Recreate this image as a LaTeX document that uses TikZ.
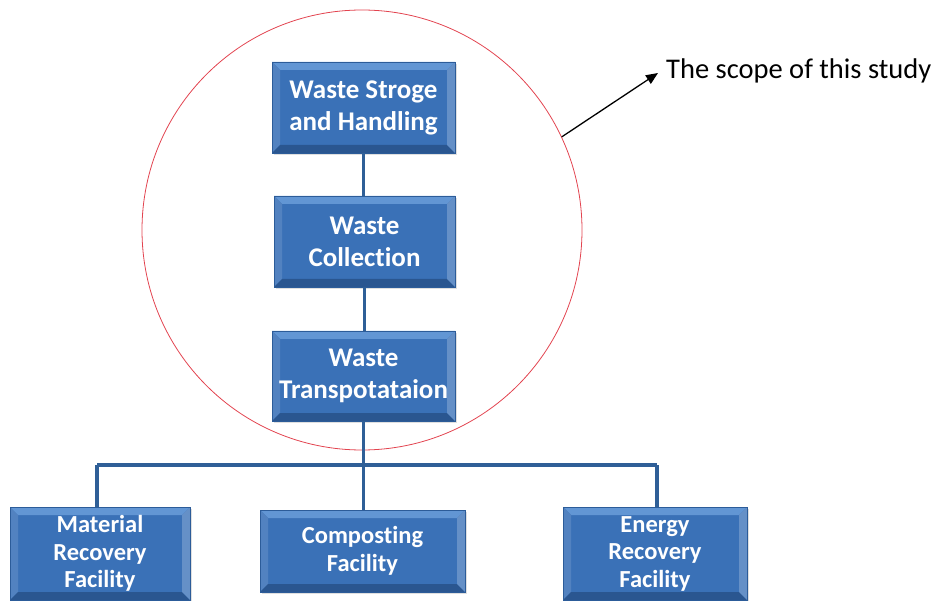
\documentclass[tikz,border=0pt]{standalone}
\usepackage{fontspec}
\setmainfont{Carlito}[Ligatures={NoCommon,NoRequired,NoContextual},Contextuals=NoAlternate]
\usetikzlibrary{arrows.meta,shadows}
\definecolor{boxblue}{HTML}{3A71B7}
\definecolor{boxedge}{HTML}{2C5C99}
\definecolor{bevlight}{HTML}{6296D4}
\definecolor{bevdark}{HTML}{2A5690}
\definecolor{linkblue}{HTML}{2F5F97}
\definecolor{scopered}{HTML}{E2434F}
\tikzset{
  box/.style={rectangle, fill=boxblue, draw=boxedge, line width=0.6pt,
    text=white, align=center, inner sep=0pt,
    drop shadow={opacity=0.25, shadow xshift=2pt, shadow yshift=-2pt},
    path picture={
      \fill[bevlight] (path picture bounding box.north west) -- (path picture bounding box.north east)
        -- ([xshift=-8pt,yshift=-8pt]path picture bounding box.north east)
        -- ([xshift=8pt,yshift=-8pt]path picture bounding box.north west) -- cycle;
      \fill[boxblue!88!white] (path picture bounding box.north west) -- ([xshift=8pt,yshift=-8pt]path picture bounding box.north west)
        -- ([xshift=8pt,yshift=8pt]path picture bounding box.south west) -- (path picture bounding box.south west) -- cycle;
      \fill[bevdark] (path picture bounding box.south west) -- (path picture bounding box.south east)
        -- ([xshift=-8pt,yshift=8pt]path picture bounding box.south east)
        -- ([xshift=8pt,yshift=8pt]path picture bounding box.south west) -- cycle;
      \fill[boxblue!78!white] (path picture bounding box.north east) -- ([xshift=-8pt,yshift=-8pt]path picture bounding box.north east)
        -- ([xshift=-8pt,yshift=8pt]path picture bounding box.south east) -- (path picture bounding box.south east) -- cycle;
    }},
  topbox/.style={box, font=\bfseries\fontsize{27}{32}\selectfont},
  lowbox/.style={box, font=\bfseries\fontsize{24.5}{27.5}\selectfont},
  link/.style={draw=linkblue, line width=3.8pt},
  scopering/.style={circle, draw=scopered, line width=0.8pt, minimum size=440pt, inner sep=0pt},
}
\begin{document}
\begin{tikzpicture}[x=1pt,y=-1pt]
\useasboundingbox (0,0) rectangle (937,601);
\node[scopering] (scope) at (362,230) {};
\node[topbox, minimum width=183pt, minimum height=91pt] (b1) at (363.5,107.5) {Waste Stroge\\and Handling};
\node[topbox, minimum width=181pt, minimum height=91pt] (b2) at (364.5,241.5) {Waste\\Collection};
\node[topbox, minimum width=183pt, minimum height=90pt] (b3) at (363.5,376) {Waste\\Transpotataion};
\node[lowbox, minimum width=180pt, minimum height=93pt] (m1) at (100,553.5) {Material\\Recovery\\Facility};
\node[lowbox, minimum width=205pt, minimum height=82pt] (m2) at (362.5,551) {Composting\\Facility};
\node[lowbox, minimum width=184pt, minimum height=93pt] (m3) at (655,553.5) {Energy\\Recovery\\Facility};
\node[anchor=west, font=\fontsize{28.5}{32}\selectfont, inner sep=0pt] (lbl) at (666,71) {The scope of this study};
\coordinate (bus) at (362,465);
\coordinate (busL) at (97,465);
\coordinate (busR) at (657,465);
\draw[link] (b1.south) -- (b1.south |- b2.north);
\draw[link] (b2.south) -- (b2.south |- b3.north);
\draw[link] (b3.south) -- (b3.south |- bus) -- (b3.south |- m2.north);
\draw[link] (busL) -- (busR);
\draw[link] (busL) -- (busL |- m1.north);
\draw[link] (busR) -- (busR |- m3.north);
\draw[line width=1.3pt, -{Triangle[length=12pt,width=10pt]}] (scope.25) -- ([xshift=-8pt,yshift=-2pt]lbl.west);
\end{tikzpicture}
\end{document}
